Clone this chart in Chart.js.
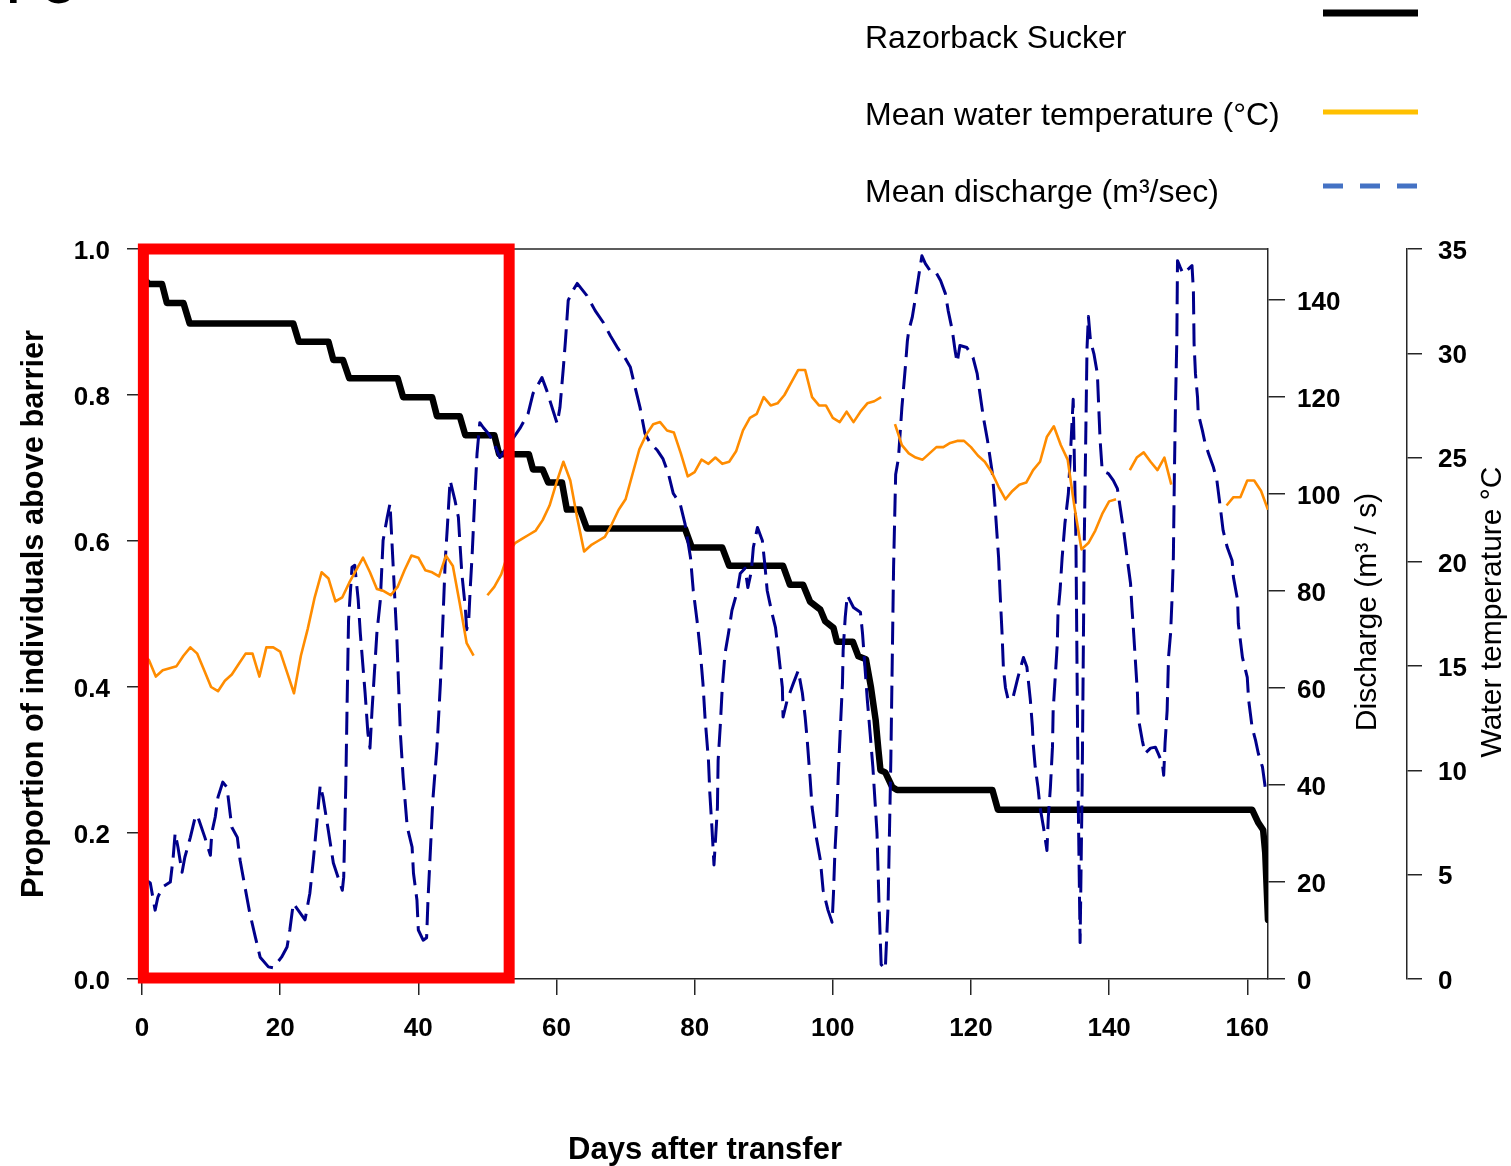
<!DOCTYPE html>
<html>
<head>
<meta charset="utf-8">
<title>Razorback Sucker above barrier</title>
<script src="https://cdn.jsdelivr.net/npm/chart.js@4.4.1/dist/chart.umd.min.js"></script>
<style>
  html, body { margin: 0; padding: 0; background: #fff; }
  #wrap { position: relative; width: 1511px; height: 1166px; overflow: hidden; }
  canvas { display: block; }
</style>
</head>
<body>
<div id="wrap"><canvas id="fishChart" width="1511" height="1166"></canvas></div>
<script>
// ---- data ----

// proportion of tagged fish still above the barrier (change points)
const suckerDays = [0, 1, 2.9, 3.6, 6.0, 6.9, 21.9, 22.7, 27.0, 27.7,
  29.1, 30.0, 37.0, 37.8, 42.0, 42.7, 46.0, 46.8, 51.0, 51.7,
  56.0, 56.6, 58.0, 58.8, 60.8, 61.5, 63.4, 64.4, 78.6, 79.6,
  84.0, 85.0, 92.8, 93.8, 95.7, 96.7, 98.2, 98.9, 100.1, 100.6,
  102.9, 103.7, 104.8, 105.5, 106.2, 106.6, 106.9, 107.6, 108.6, 109.3,
  123.1, 123.9, 160.7, 161.6, 162.3, 162.6, 163];
const suckerProp = [0.962, 0.952, 0.952, 0.926, 0.926, 0.898, 0.898, 0.873, 0.873, 0.848,
  0.848, 0.823, 0.823, 0.797, 0.797, 0.771, 0.771, 0.745, 0.745, 0.719,
  0.719, 0.698, 0.698, 0.680, 0.680, 0.643, 0.643, 0.617, 0.617, 0.591,
  0.591, 0.566, 0.566, 0.540, 0.540, 0.517, 0.506, 0.490, 0.481, 0.462,
  0.462, 0.442, 0.438, 0.401, 0.355, 0.314, 0.286, 0.283, 0.263, 0.259,
  0.259, 0.232, 0.232, 0.214, 0.204, 0.173, 0.081];

// mean daily water temperature (°C), day 0..163, null = no record
const tempVals = [
  15.6, 15.3, 14.5, 14.8, 14.9, 15.0, 15.5, 15.9, 15.6, 14.8,   // 0-9
  14.0, 13.8, 14.3, 14.6, 15.1, 15.6, 15.6, 14.5, 15.9, 15.9,   // 10-19
  15.7, 14.7, 13.7, 15.5, 16.8, 18.3, 19.5, 19.2, 18.1, 18.3,   // 20-29
  19.0, 19.6, 20.2, 19.5, 18.7, 18.6, 18.4, 18.8, 19.6, 20.3,   // 30-39
  20.2, 19.6, 19.5, 19.3, 20.3, 19.8, 18.0, 16.1, 15.5, null,   // 40-49
  18.4, 18.8, 19.4, 20.4, 20.9, 21.1, 21.3, 21.5, 22.0, 22.7,   // 50-59
  23.8, 24.8, 23.9, 22.1, 20.5, 20.8, 21.0, 21.2, 21.8, 22.5,   // 60-69
  23.0, 24.2, 25.4, 26.1, 26.6, 26.7, 26.3, 26.2, 25.2, 24.1,   // 70-79
  24.3, 24.9, 24.7, 25.0, 24.7, 24.8, 25.3, 26.3, 26.9, 27.1,   // 80-89
  27.9, 27.5, 27.6, 28.0, 28.6, 29.2, 29.2, 27.9, 27.5, 27.5,   // 90-99
  26.9, 26.7, 27.2, 26.7, 27.2, 27.6, 27.7, 27.9, null, 26.6,   // 100-109
  25.6, 25.2, 25.0, 24.9, 25.2, 25.5, 25.5, 25.7, 25.8, 25.8,   // 110-119
  25.5, 25.1, 24.8, 24.3, 23.6, 23.0, 23.4, 23.7, 23.8, 24.4,   // 120-129
  24.8, 26.0, 26.5, 25.6, 24.9, 22.6, 20.6, 20.9, 21.5, 22.3,   // 130-139
  22.9, 23.0, null, 24.4, 25.0, 25.25, 24.8, 24.4, 25.0, 23.7,  // 140-149
  null, null, null, null, null, null, null, 22.7, 23.1, 23.1,   // 150-159
  23.9, 23.9, 23.4, 22.5                                         // 160-163
];

// mean discharge (m3/s)
const qDays = [
  0, 1.2, 1.9, 2.3, 3.0, 4.1, 4.5, 4.8, 5.2, 5.8,
  6.2, 7.0, 7.7, 8.0, 8.4, 9.1, 9.9, 10.1, 10.6, 11.0,
  11.7, 12.3, 13.0, 13.8, 14.2, 14.9, 15.6, 16.4, 17.1, 18.3,
  19.0, 20.2, 21.0, 21.4, 21.9, 22.6, 23.6, 24.3, 24.8, 25.3,
  25.8, 26.2, 26.9, 27.7, 29.0, 29.2, 29.5, 29.7, 29.9, 30.4,
  30.8, 31.3, 31.6, 32.3, 32.7, 33.0, 33.3, 34.0, 34.5, 34.9,
  35.5, 35.9, 36.9, 37.4, 37.8, 38.4, 39.1, 39.3, 39.8, 40.0,
  40.7, 41.2, 41.4, 41.7, 42.1, 42.7, 43.2, 43.6, 43.9, 44.2,
  44.6, 45.3, 45.8, 46.0, 46.3, 46.8, 47.0, 47.3, 47.5, 47.8,
  48.2, 48.5, 48.9, 49.4, 50.1, 50.8, 51.8, 53.0, 54.7, 55.9,
  56.6, 57.9, 58.6, 59.5, 60.1, 60.5, 61.0, 61.3, 61.7, 62.2,
  63.0, 64.4, 65.6, 66.8, 67.8, 68.9, 69.9, 70.7, 71.4, 72.1,
  72.8, 73.6, 74.6, 75.4, 76.2, 76.9, 77.9, 78.6, 79.4, 79.8,
  80.4, 80.8, 81.2, 81.5, 82.0, 82.2, 82.5, 82.8, 83.3, 83.4,
  83.7, 84.0, 84.4, 84.9, 85.4, 86.2, 86.6, 87.3, 87.7, 88.2,
  88.5, 89.1, 89.8, 90.2, 90.5, 91.2, 91.7, 92.1, 92.7, 92.8,
  93.4, 94.3, 95.0, 95.6, 96.0, 96.3, 96.7, 97.0, 97.5, 98.2,
  98.6, 99.3, 99.9, 100.1, 100.3, 100.6, 100.8, 101.1, 101.4, 101.5,
  101.8, 102.1, 103.0, 104.0, 104.3, 105.0, 105.4, 105.8, 106.1, 106.4,
  106.7, 107.0, 107.6, 108.0, 108.4, 108.8, 109.1, 109.5, 110.0, 110.5,
  110.8, 111.0, 111.5, 111.9, 112.4, 112.9, 113.4, 114.1, 114.8, 115.6,
  116.3, 116.7, 117.3, 117.7, 118.0, 118.4, 119.4, 120.3, 120.9, 121.3,
  121.8, 122.4, 123.1, 123.5, 124.0, 124.2, 124.5, 124.7, 125.0, 125.4,
  126.1, 126.8, 127.6, 128.1, 128.6, 128.9, 129.0, 129.3, 129.7, 130.0,
  130.5, 131.0, 131.2, 131.5, 131.8, 131.9, 132.2, 132.5, 132.6, 132.9,
  133.2, 133.6, 134.1, 134.4, 134.8, 135.2, 135.5, 135.8, 136.1, 136.4,
  136.8, 137.0, 137.3, 137.8, 138.3, 138.5, 138.7, 139.0, 139.9, 140.6,
  141.2, 141.6, 142.1, 142.6, 143.1, 143.3, 143.5, 143.8, 144.1, 144.2,
  144.8, 145.2, 146.0, 146.7, 147.1, 147.7, 147.9, 148.1, 148.4, 148.6,
  148.9, 149.1, 149.3, 149.45, 149.6, 149.8, 149.9, 150.3, 150.7, 151.5,
  152.0, 152.2, 152.3, 152.5, 152.8, 152.9, 153.5, 153.9, 154.4, 155.1,
  155.6, 156.1, 156.5, 157.1, 157.8, 158.0, 158.6, 158.7, 159.3, 160.0,
  160.2, 160.7, 161.2, 161.6, 162.2, 162.6, 163.0
];
const qVals = [
  21, 19.8, 14.2, 16.9, 19.0, 20.0, 24.9, 30.1, 27.2, 22.0,
  25.1, 29.2, 33.4, 33.8, 32.1, 29.2, 25.5, 30.1, 33.4, 37.5,
  40.6, 39.5, 31.3, 29.2, 24.5, 19.0, 13.6, 8.7, 4.5, 2.5,
  2.3, 4.5, 6.6, 10.1, 15.6, 14.2, 12.2, 17.7, 24.5, 32.1,
  40.0, 37.5, 31.3, 23.9, 18.3, 21.0, 40.0, 57.5, 74.0, 84.9,
  85.3, 78.1, 71.3, 58.9, 50.7, 47.6, 55.4, 71.3, 78.1, 90.4,
  95.2, 98.0, 70.0, 50.7, 41.6, 31.3, 27.2, 21.8, 16.3, 10.1,
  8.0, 8.5, 16.3, 25.1, 36.9, 47.8, 61.0, 75.4, 86.3, 93.1,
  102.8, 98.7, 95.2, 90.4, 83.6, 76.6, 72.0, 74.0, 80.1, 87.7,
  100.1, 108.3, 114.7, 113.7, 112.5, 111.0, 107.5, 110.0, 113.5, 116.6,
  120.7, 124.0, 121.3, 117.2, 114.5, 117.8, 126.1, 131.6, 139.9, 141.5,
  143.4, 140.9, 137.8, 135.3, 132.6, 130.0, 128.1, 126.1, 121.9, 117.8,
  112.5, 110.4, 109.0, 107.3, 104.2, 100.1, 98.0, 93.9, 86.9, 80.1,
  73.3, 67.8, 61.0, 54.0, 45.1, 38.3, 31.3, 23.5, 35.4, 45.1,
  51.9, 60.1, 67.1, 71.3, 76.0, 80.1, 83.6, 84.7, 80.7, 84.0,
  89.0, 93.1, 90.4, 84.9, 80.1, 75.4, 72.5, 67.8, 60.1, 54.0,
  57.5, 61.0, 63.6, 58.9, 54.0, 49.2, 41.6, 35.4, 30.1, 24.5,
  18.3, 14.2, 11.7, 17.7, 26.0, 34.2, 42.4, 51.9, 61.0, 67.8,
  74.6, 79.1, 76.6, 75.6, 71.3, 57.5, 50.7, 43.7, 36.9, 30.1,
  15.0, 3.0, 2.0, 15.0, 45.0, 85.0, 104.0, 107.3, 117.8, 126.1,
  131.6, 133.7, 136.4, 139.9, 144.6, 149.1, 147.5, 146.0, 146.0, 144.0,
  141.3, 137.8, 133.7, 129.6, 127.1, 130.6, 130.2, 128.1, 124.8, 120.7,
  115.8, 111.0, 104.2, 97.2, 86.9, 80.1, 71.3, 64.0, 60.0, 57.5,
  58.1, 62.2, 66.3, 64.3, 57.5, 51.9, 48.6, 43.7, 39.5, 35.4,
  31.3, 26.5, 33.4, 39.5, 47.8, 55.4, 62.2, 69.2, 75.4, 80.1,
  86.9, 93.9, 100.1, 108.3, 119.5, 90.0, 40.0, 7.5, 40.0, 90.0,
  130.0, 136.6, 131.6, 128.9, 124.8, 117.8, 111.0, 104.8, 104.2, 102.8,
  101.1, 97.2, 92.5, 86.9, 81.6, 76.6, 72.5, 65.7, 58.9, 54.0,
  49.2, 46.5, 47.6, 47.8, 46.5, 44.5, 42.0, 48.6, 55.4, 66.3,
  71.3, 78.1, 86.9, 104.2, 117.8, 131.6, 148.1, 146.7, 145.4, 146.4,
  147.1, 141.9, 131.0, 124.8, 119.9, 116.6, 113.1, 110.4, 108.3, 105.5,
  102.8, 97.2, 92.5, 89.0, 86.3, 82.8, 78.1, 73.3, 66.3, 62.2,
  57.5, 51.9, 49.2, 46.5, 43.7, 39.5, 39.0
];

// period highlighted with the red frame (days)
const highlightDays = [0.2, 53.15];

const legendLabels = ['Razorback Sucker', 'Mean water temperature (°C)', 'Mean discharge (m³/sec)'];

// ---- chart ----
const AXIS = '#262626';
const FONT = '"Liberation Sans", Arial, Helvetica, sans-serif';
Chart.defaults.font.family = FONT;
Chart.defaults.color = '#000';

const tickFont = { size: 26, weight: 'bold' };
const axisGrid = len => ({ display: true, drawOnChartArea: false, drawTicks: true, tickLength: len, color: AXIS, lineWidth: 1.5 });
const axisBorder = { display: true, color: AXIS, width: 1.5 };

const suckerPoints = suckerDays.map((d, i) => ({ x: d, y: suckerProp[i] }));
const tempPoints = tempVals.map((v, i) => ({ x: i, y: v }));
const qPoints = qDays.map((d, i) => ({ x: d, y: qVals[i] }));

// extra bits R drew outside the plot: box top, right-hand titles, legend, red frame
const extras = {
    id: 'extras',
    afterDraw(chart) {
        const ctx = chart.ctx;
        const a = chart.chartArea;
        const xs = chart.scales.x;
        ctx.save();

        // top edge of the plot box
        ctx.strokeStyle = AXIS;
        ctx.lineWidth = 1.5;
        ctx.beginPath();
        ctx.moveTo(a.left, a.top);
        ctx.lineTo(a.right, a.top);
        ctx.stroke();

        // rotated titles for the two right axes
        const rotText = (txt, x, y) => {
            ctx.save();
            ctx.translate(x, y);
            ctx.rotate(-Math.PI / 2);
            ctx.font = '30px ' + FONT;
            ctx.fillStyle = '#000';
            ctx.textAlign = 'center';
            ctx.textBaseline = 'middle';
            ctx.fillText(txt, 0, 0);
            ctx.restore();
        };
        rotText('Discharge (m³ / s)', 1368, 612);
        rotText('Water temperature °C', 1493, 612);

        // legend (text left, sample right)
        ctx.font = '32px ' + FONT;
        ctx.fillStyle = '#000';
        ctx.textAlign = 'left';
        ctx.textBaseline = 'middle';
        ctx.fillText(legendLabels[0], 865, 39);
        ctx.fillText(legendLabels[1], 865, 116);
        ctx.fillText(legendLabels[2], 865, 193);

        ctx.lineCap = 'butt';
        ctx.strokeStyle = '#000';
        ctx.lineWidth = 7;
        ctx.beginPath(); ctx.moveTo(1323, 13); ctx.lineTo(1418, 13); ctx.stroke();
        ctx.strokeStyle = '#FFC000';
        ctx.lineWidth = 5;
        ctx.beginPath(); ctx.moveTo(1323, 112); ctx.lineTo(1418, 112); ctx.stroke();
        ctx.strokeStyle = '#4472C4';
        ctx.setLineDash([20, 17]);
        ctx.beginPath(); ctx.moveTo(1323, 186); ctx.lineTo(1418, 186); ctx.stroke();
        ctx.setLineDash([]);

        // cut-off heading fragment at the very top left
        ctx.font = '75px ' + FONT;
        ctx.textBaseline = 'alphabetic';
        ctx.letterSpacing = '15px';
        ctx.fillText('i6', 5, 3);
        ctx.letterSpacing = '0px';

        // red highlight frame
        ctx.strokeStyle = '#FF0000';
        ctx.lineWidth = 11;
        const x1 = xs.getPixelForValue(highlightDays[0]);
        const x2 = xs.getPixelForValue(highlightDays[1]);
        ctx.strokeRect(x1, a.top, x2 - x1, a.bottom - a.top - 1);
        ctx.restore();
    }
};

new Chart(document.getElementById('fishChart'), {
    type: 'line',
    data: {
        datasets: [
            {
                label: legendLabels[1],
                data: tempPoints,
                yAxisID: 'yT',
                borderColor: '#FF8C00',
                borderWidth: 2.6,
                pointRadius: 0,
                spanGaps: false,
                borderJoinStyle: 'round',
                tension: 0
            },
            {
                label: legendLabels[2],
                data: qPoints,
                yAxisID: 'yQ',
                borderColor: '#00008B',
                borderWidth: 3,
                borderDash: [23, 9],
                borderJoinStyle: 'round',
                pointRadius: 0,
                tension: 0
            },
            {
                label: legendLabels[0],
                data: suckerPoints,
                yAxisID: 'y',
                borderColor: '#000',
                borderWidth: 6.5,
                borderJoinStyle: 'round',
                borderCapStyle: 'round',
                pointRadius: 0,
                tension: 0
            }
        ]
    },
    options: {
        responsive: false,
        animation: false,
        events: [],
        layout: { padding: { top: 249, left: 0, right: 0, bottom: 0 } },
        plugins: { legend: { display: false }, tooltip: { enabled: false } },
        scales: {
            x: {
                type: 'linear', position: 'bottom', min: 0, max: 163,
                afterFit: s => { s.height = 187; },
                ticks: { stepSize: 20, includeBounds: false, padding: 18, maxRotation: 0, font: tickFont, color: '#000' },
                grid: axisGrid(16),
                border: axisBorder,
                title: { display: true, text: 'Days after transfer', color: '#000', font: { size: 31, weight: 'bold', lineHeight: 1 }, padding: { top: 0, bottom: 0 } }
            },
            y: {
                position: 'left', min: 0, max: 1,
                afterFit: s => { s.width = 142; },
                ticks: { stepSize: 0.2, padding: 17, labelOffset: 2.5, font: tickFont, color: '#000', callback: v => v.toFixed(1) },
                grid: axisGrid(15),
                border: axisBorder,
                title: { display: true, text: 'Proportion of individuals above barrier', color: '#000', font: { size: 30.8, weight: 'bold' }, padding: { top: 16, bottom: 0 } }
            },
            yQ: {
                position: 'right', weight: 0, min: 0, max: 150.5,
                afterFit: s => { s.width = 139; },
                ticks: { stepSize: 20, includeBounds: false, padding: 12, labelOffset: 2.5, font: tickFont, color: '#000' },
                grid: axisGrid(17),
                border: axisBorder
            },
            yT: {
                position: 'right', weight: 1, min: 0, max: 35,
                afterFit: s => { s.width = 104; },
                ticks: { stepSize: 5, padding: 16, labelOffset: 2.5, font: tickFont, color: '#000' },
                grid: axisGrid(15),
                border: axisBorder
            }
        }
    },
    plugins: [extras]
});
</script>
</body>
</html>
